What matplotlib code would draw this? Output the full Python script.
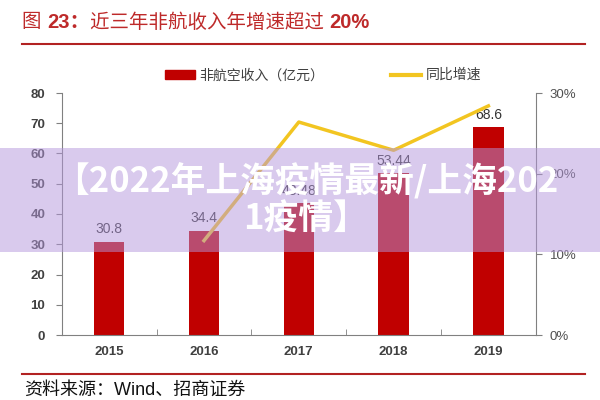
import matplotlib
matplotlib.use("Agg")
import matplotlib.pyplot as plt
from matplotlib.patches import Rectangle, Patch
from matplotlib.lines import Line2D

plt.rcParams['font.family'] = ['Liberation Sans', 'Noto Sans CJK SC']

years = ['2015', '2016', '2017', '2018', '2019']
revenue = [30.8, 34.4, 43.48, 53.44, 68.6]
growth = [None, 11.7, 26.4, 22.9, 28.4]   # %
rev_labels = ['30.8', '34.4', '43.48', '53.44', '68.6']

red = '#C00000'
yellow = '#F2C521'
grey = '#404040'
title_red = '#BE2A2A'

fig = plt.figure(figsize=(6, 4), dpi=100)
ax = fig.add_axes([0.103, 0.1625, 0.79, 0.605])
x = list(range(len(years)))

ax.bar(x, revenue, width=0.32, color=red, zorder=2)
for xi, v, lab in zip(x, revenue, rev_labels):
    ax.annotate(lab, (xi, v), xytext=(0, 4), textcoords='offset points',
                ha='center', va='bottom', fontsize=10, color='#333333')

ax.set_xlim(-0.5, len(years) - 0.5)
ax.set_ylim(0, 80)
ax.set_yticks(range(0, 81, 10))
ax.set_xticks(x)
ax.set_xticklabels(years)
ax.set_xticks([i + 0.5 for i in x[:-1]], minor=True)
ax.tick_params(axis='x', which='major', length=0, pad=8, labelsize=9.5,
               labelcolor=grey)
ax.tick_params(axis='x', which='minor', direction='in', length=4, color='#808080')
ax.tick_params(axis='y', direction='out', length=4, color='#808080',
               labelsize=9.5, labelcolor=grey, pad=8)
for lab in ax.get_xticklabels() + ax.get_yticklabels():
    lab.set_fontweight('bold')
for s in ['top', 'right']:
    ax.spines[s].set_visible(False)
for s in ['left', 'bottom']:
    ax.spines[s].set_color('#808080')

ax2 = ax.twinx()
gx = [xi for xi, g in zip(x, growth) if g is not None]
gy = [g for g in growth if g is not None]
ax2.plot(gx, gy, color=yellow, lw=2.5, zorder=3)
ax2.set_ylim(0, 30)
ax2.set_yticks([0, 10, 20, 30])
ax2.set_yticklabels(['0%', '10%', '20%', '30%'])
ax2.tick_params(axis='y', direction='out', length=4, color='#808080',
                labelsize=9.5, labelcolor='#505050', pad=6)
for s in ['top', 'left', 'bottom']:
    ax2.spines[s].set_visible(False)
ax2.spines['right'].set_color('#808080')

handles = [Patch(color=red), Line2D([], [], color=yellow, lw=3)]
fig.legend(handles, ['非航空收入（亿元）', '同比增速'], loc='center',
           bbox_to_anchor=(0.538, 0.812), ncol=2, frameon=False,
           fontsize=10, labelcolor=grey, handlelength=2.2, handleheight=0.6,
           columnspacing=4.8, handletextpad=0.3)

# title in pieces: numbers bold, Chinese regular
t1 = fig.text(0.037, 0.943, '图 ', fontsize=14, color=title_red,
              ha='left', va='center')
t2 = ax.annotate('23：', xy=(1, 0.5), xycoords=t1, fontsize=14.5,
                 fontweight='bold', color=title_red, ha='left', va='center',
                 annotation_clip=False)
t3 = ax.annotate('近三年非航收入年增速超过 ', xy=(1, 0.5), xycoords=t2,
                 fontsize=14, color=title_red, ha='left', va='center',
                 annotation_clip=False)
ax.annotate('20%', xy=(1, 0.5), xycoords=t3, fontsize=14.5, fontweight='bold',
            color=title_red, ha='left', va='center', annotation_clip=False)

fig.add_artist(Line2D([0.037, 0.975], [0.89, 0.89], color='#B22222', lw=1.5))
fig.add_artist(Line2D([0.037, 0.975], [0.064, 0.064], color='#B22222', lw=1.5))
fig.text(0.04, 0.025, '资料来源：Wind、招商证券', fontsize=13, color='#111111',
         ha='left', va='center')

# watermark banner
fig.add_artist(Rectangle((0, 0.37), 1, 0.26, transform=fig.transFigure,
                         facecolor='#B497DC', alpha=0.5, lw=0, zorder=10))
fig.text(0.51, 0.5, '【2022年上海疫情最新/上海202\n1疫情】', fontsize=25,
         family='Noto Sans CJK SC', color='white', fontweight='bold',
         ha='center', va='center', linespacing=1.1, zorder=11)

fig.savefig('out.png')
